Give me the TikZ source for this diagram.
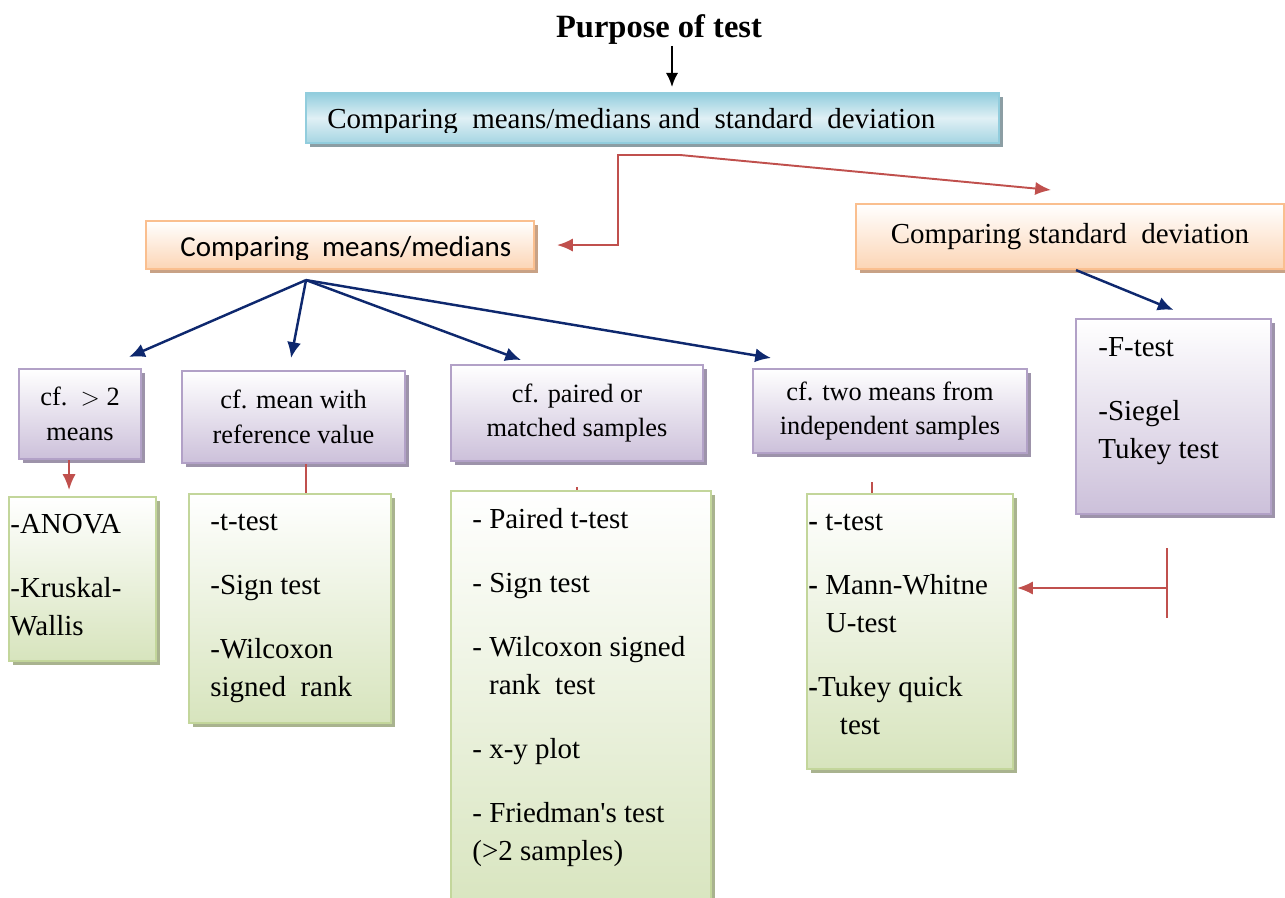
\documentclass[tikz,border=0pt]{standalone}
\usepackage{fontspec}
\setmainfont{Liberation Serif}
\newfontfamily\calibrifont{Carlito}
\usetikzlibrary{shadows,arrows.meta}

\definecolor{linkred}{RGB}{192,80,77}
\definecolor{linknavy}{RGB}{14,40,110}
\definecolor{bluetop}{RGB}{146,205,221}
\definecolor{bluemid}{RGB}{224,240,245}
\definecolor{bluelow}{RGB}{165,213,226}
\definecolor{blueshade}{RGB}{140,158,164}
\definecolor{orangeedge}{RGB}{250,191,143}
\definecolor{orangelow}{RGB}{252,213,181}
\definecolor{orangeshade}{RGB}{200,162,134}
\definecolor{purpleedge}{RGB}{178,161,199}
\definecolor{purplelow}{RGB}{204,192,218}
\definecolor{purpleshade}{RGB}{157,147,170}
\definecolor{greenedge}{RGB}{195,214,155}
\definecolor{greenlow}{RGB}{215,228,189}
\definecolor{greenshade}{RGB}{169,179,143}

\tikzset{
  shadowed/.style={drop shadow={shadow xshift=0.08cm, shadow yshift=-0.08cm, opacity=1, fill=#1}},
  bluebox/.style={draw=bluetop, line width=1.2pt, top color=bluetop, bottom color=bluelow,
    middle color=bluemid, shadowed=blueshade, anchor=north west, inner sep=0},
  orangebox/.style={draw=orangeedge, line width=1.2pt, top color=white, bottom color=orangelow,
    shadowed=orangeshade, anchor=north west, inner sep=0},
  purplebox/.style={draw=purpleedge, line width=1.2pt, top color=white, bottom color=purplelow,
    shadowed=purpleshade, anchor=north west, inner sep=0,
    align=center, font=\fontsize{15}{19.8}\selectfont},
  greenbox/.style={draw=greenedge, line width=1.2pt, top color=white, bottom color=greenlow,
    shadowed=greenshade, anchor=north west, inner sep=0},
  listtext/.style={anchor=north west, inner sep=0, align=left, font=\fontsize{16.5}{21.5}\selectfont},
  redline/.style={draw=linkred, line width=1.1pt},
  redarrow/.style={redline, -{Latex[length=9pt,width=7.5pt]}},
  navyarrow/.style={draw=linknavy, line width=1.4pt, -{Latex[length=9pt,width=8pt]}}
}

\begin{document}
\begin{tikzpicture}[x=0.02cm, y=-0.02cm]
\useasboundingbox (0,0) rectangle (1285,898);

\node[anchor=base, font=\fontsize{18.5}{22}\selectfont\bfseries] (purpose) at (659,38) {Purpose of test};

% top level box, its text is cut off at the bottom
\node[bluebox, minimum width=13.86cm, minimum height=1cm] (top) at (305,92) {};
\begin{scope}
  \clip (top.north west) rectangle ([yshift=0.24cm]top.south east);
  \node[anchor=base west, inner sep=0, font=\fontsize{16.5}{21.5}\selectfont] (toptext) at (327,129)
    {Comparing\ \ means/medians and\ \ standard\ \ deviation};
\end{scope}

% second level
\node[orangebox, minimum width=7.76cm, minimum height=0.96cm] (mm) at (145,220) {};
\begin{scope}
  \clip (mm.north west) rectangle ([yshift=0.21cm]mm.south east);
  \node[anchor=base west, inner sep=0, font=\calibrifont\fontsize{16.5}{21.5}\selectfont] (mmtext) at (180,257)
    {Comparing\ \ means/medians};
\end{scope}
\node[orangebox, minimum width=8.56cm, minimum height=1.3cm, font=\fontsize{16.5}{21.5}\selectfont] (sd) at (855,203)
  {Comparing standard\ \ deviation};

% what is compared
\node[purplebox, minimum width=2.44cm, minimum height=1.8cm] (p1) at (18,368) {cf.\ \ $>$ 2\\means};
\node[purplebox, minimum width=4.46cm, minimum height=1.84cm] (p2) at (181,370) {cf. mean with\\reference value};
\node[purplebox, minimum width=5.04cm, minimum height=1.92cm] (p3) at (450,364) {cf. paired or\\matched samples};
\node[purplebox, minimum width=5.48cm, minimum height=1.68cm] (p4) at (752,368) {cf. two means from\\independent samples};
\node[purplebox, minimum width=3.9cm, minimum height=3.9cm] (p5) at (1075,318) {};
\node[listtext] (p5text) at (1098,329.5) {\strut-F-test\\[15pt]-Siegel\\Tukey test};

% the tests
\node[greenbox, minimum width=2.94cm, minimum height=3.28cm] (g1) at (8,496) {};
\node[greenbox, minimum width=4.04cm, minimum height=4.58cm] (g2) at (188,493) {};
\node[greenbox, minimum width=5.2cm, minimum height=8.6cm] (g3) at (450,490) {};
\node[greenbox, minimum width=4.12cm, minimum height=5.5cm] (g4) at (806,493) {};

\node[listtext] (g1text) at (10,506.5) {\strut-ANOVA\\[15pt]-Kruskal-\\Wallis};
\node[listtext] (g2text) at (210,503.5) {\strut-t-test\\[15pt]-Sign test\\[15pt]-Wilcoxon\\signed\ \ rank};
\node[listtext] (g3text) at (472,501.5) {\strut- Paired t-test\\[15pt]- Sign test\\[15pt]- Wilcoxon signed\\
  \hspace*{9.6pt}rank\ \ test\\[15pt]- x-y plot\\[15pt]- Friedman\textquotesingle s test\\(>2 samples)};
\node[listtext] (g4text) at (808,503.5) {\strut\textbf{-} t-test\\[15pt]\textbf{-} Mann-Whitne\\
  \hspace*{10pt}U-test\\[15pt]\textbf{-}Tukey quick\\\hspace*{18pt}test};

% links
\draw[line width=1.2pt, -{Latex[length=8pt,width=7pt]}] ([xshift=0.26cm, yshift=-0.16cm]purpose.base) -- ([xshift=0.26cm, yshift=0.1cm]purpose.base |- top.north);

\coordinate (split) at (680,155);
\coordinate (bend) at (618,155);
\draw[redarrow] (split) -- (bend) |- ([xshift=0.44cm]mm.east);
\draw[redarrow] (split) -- ([xshift=-0.38cm, yshift=0.26cm]sd.north);

\coordinate (fan) at ([xshift=-0.68cm, yshift=-0.2cm]mm.south);
\foreach \target/\dx/\dy in {p1/0.98/0.22, p2/-0.05/0.24, p3/-1.12/0.08, p4/-2.38/0.2}
  \draw[navyarrow] (fan) -- ([xshift=\dx cm, yshift=\dy cm]\target.north);
\draw[navyarrow] ([xshift=0.12cm]sd.south) -- ([yshift=0.16cm]p5.north);

\draw[redarrow] ([xshift=-0.22cm]p1.south) -- ([xshift=-0.22cm, yshift=0.12cm]p1.south |- g1.north);
\draw[redline] ([xshift=0.25cm]p2.south) -- ([xshift=0.25cm]p2.south |- g2.north);
\draw[redline] ([yshift=0.06cm]p3.south |- g3.north) -- (p3.south |- g3.north);
\draw[redline] ([xshift=-0.36cm, yshift=0.22cm]p4.south |- g4.north) -- ([xshift=-0.36cm]p4.south |- g4.north);

\coordinate (bar) at (1167,588);
\draw[redline] ([yshift=0.8cm]bar) -- ([yshift=-0.6cm]bar);
\draw[redarrow] (bar) -- ([xshift=0.06cm]bar -| g4.east);
\end{tikzpicture}
\end{document}
